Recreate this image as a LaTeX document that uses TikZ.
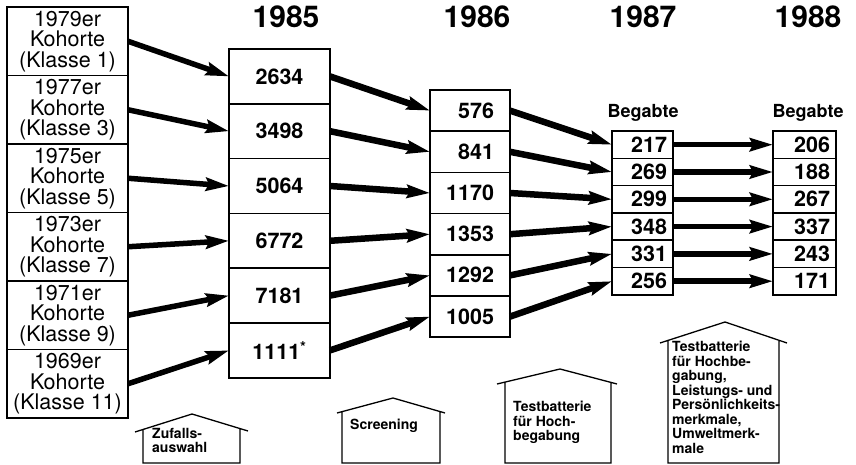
\documentclass[tikz,border=0pt]{standalone}
\usepackage{fontspec}
\setmainfont{TeX Gyre Heros}
\usetikzlibrary{arrows.meta, positioning}

\begin{document}
\begin{tikzpicture}[
  x=1pt, y=-1pt,
  zelle/.style={draw, line width=1.6pt, outer sep=0pt, inner sep=0pt},
  kohorte/.style={zelle, minimum width=121pt, minimum height=68.5pt,
                  align=center, font=\fontsize{21.5}{20.5}\selectfont},
  z85/.style={zelle, minimum width=101pt, minimum height=54.8pt,
              font=\fontsize{21.5}{21}\selectfont\bfseries},
  z86/.style={zelle, minimum width=80pt, minimum height=41.2pt, inner xsep=16pt,
              text width=48pt, align=right, text height=15pt, text depth=0pt,
              font=\fontsize{21.5}{21}\selectfont\bfseries},
  z87/.style={zelle, minimum width=61pt, minimum height=27.3pt, inner xsep=6pt,
              text width=49pt, align=right, text height=15pt, text depth=0pt,
              font=\fontsize{21.5}{21}\selectfont\bfseries},
  z88/.style={z87, minimum width=63pt, text width=51pt},
  jahr/.style={font=\fontsize{30}{30}\selectfont\bfseries},
  begabt/.style={font=\fontsize{18}{18}\selectfont\bfseries},
  haus/.style={line width=1.3pt},
  haustext/.style={anchor=north west, inner sep=0pt, align=left,
                   font=\fontsize{14}{14.5}\selectfont\bfseries},
  pfeil/.style={line width=5.5pt, -{Stealth[length=23pt, width=13pt, inset=3pt]}},
  dick/.style={pfeil, line width=6.5pt},
]
\useasboundingbox (0,0) rectangle (856,465);

% Jahre
\node[jahr] (t85) at (286,17) {1985};
\node[jahr] (t86) at (477,17) {1986};
\node[jahr] (t87) at (643,17) {1987};
\node[jahr] (t88) at (808,17) {1988};
\node[begabt] (b87) at (643,113) {Begabte};
\node[begabt] (b88) at (808,113) {Begabte};

% Kohorten
\node[kohorte] (k79) at (67.5,41.25) {1979er\\Kohorte\\(Klasse 1)};
\node[kohorte, below=0pt of k79] (k77) {1977er\\Kohorte\\(Klasse 3)};
\node[kohorte, below=0pt of k77] (k75) {1975er\\Kohorte\\(Klasse 5)};
\node[kohorte, below=0pt of k75] (k73) {1973er\\Kohorte\\(Klasse 7)};
\node[kohorte, below=0pt of k73] (k71) {1971er\\Kohorte\\(Klasse 9)};
\node[kohorte, below=0pt of k71] (k69) {1969er\\Kohorte\\(Klasse 11)};

% 1985
\node[z85] (a1) at (279.5,76.4) {2634};
\node[z85, below=0pt of a1] (a2) {3498};
\node[z85, below=0pt of a2] (a3) {5064};
\node[z85, below=0pt of a3] (a4) {6772};
\node[z85, below=0pt of a4] (a5) {7181};
\node[z85, below=0pt of a5] (a6) {1111\textsuperscript{*}};

% 1986
\node[z86] (s1) at (470,110.6) {576};
\node[z86, below=0pt of s1] (s2) {841};
\node[z86, below=0pt of s2] (s3) {1170};
\node[z86, below=0pt of s3] (s4) {1353};
\node[z86, below=0pt of s4] (s5) {1292};
\node[z86, below=0pt of s5] (s6) {1005};

% 1987
\node[z87] (p1) at (642.5,144.7) {217};
\node[z87, below=0pt of p1] (p2) {269};
\node[z87, below=0pt of p2] (p3) {299};
\node[z87, below=0pt of p3] (p4) {348};
\node[z87, below=0pt of p4] (p5) {331};
\node[z87, below=0pt of p5] (p6) {256};

% 1988
\node[z88] (q1) at (804.5,144.7) {206};
\node[z88, below=0pt of q1] (q2) {188};
\node[z88, below=0pt of q2] (q3) {267};
\node[z88, below=0pt of q3] (q4) {337};
\node[z88, below=0pt of q4] (q5) {243};
\node[z88, below=0pt of q5] (q6) {171};

\draw[pfeil] (k79.east) -- (a1.west);
\draw[pfeil] (k77.east) -- (a2.west);
\draw[pfeil] (k75.east) -- (a3.west);
\draw[pfeil] (k73.east) -- (a4.west);
\draw[pfeil] (k71.east) -- (a5.west);
\draw[pfeil] (k69.east) -- (a6.west);

\draw[dick] (a1.east) -- (s1.west);
\draw[dick] (a2.east) -- (s2.west);
\draw[dick] (a3.east) -- (s3.west);
\draw[dick] (a4.east) -- (s4.west);
\draw[dick] (a5.east) -- (s5.west);
\draw[dick] (a6.east) -- (s6.west);

\draw[dick] (s1.east) -- (p1.west);
\draw[dick] (s2.east) -- (p2.west);
\draw[dick] (s3.east) -- (p3.west);
\draw[dick] (s4.east) -- (p4.west);
\draw[dick] (s5.east) -- (p5.west);
\draw[dick] (s6.east) -- (p6.west);

\draw[pfeil] (p1.east) -- (q1.west);
\draw[pfeil] (p2.east) -- (q2.west);
\draw[pfeil] (p3.east) -- (q3.west);
\draw[pfeil] (p4.east) -- (q4.west);
\draw[pfeil] (p5.east) -- (q5.west);
\draw[pfeil] (p6.east) -- (q6.west);

% Haeuser
\draw[haus] (135,432) -- (192,414) -- (248,431)
            (143,429.5) -- (143,463) -- (240,463) -- (240,428.6);
\draw[haus] (337,413) -- (393,398) -- (445,413)
            (342,411.7) -- (342,463) -- (440,463) -- (440,411.6);
\draw[haus] (497,384) -- (560,369) -- (617,384)
            (505,382.1) -- (505,463) -- (611,463) -- (611,382.4);
\draw[haus] (660,343) -- (725,322) -- (787,343)
            (668,340.4) -- (668,463) -- (779,463) -- (779,340.3);

\node[haustext] (h1) at (152,428) {Zufalls-\\auswahl};
\node[haustext] (h2) at (350,419) {Screening};
\node[haustext] (h3) at (513,401) {Testbatterie\\für Hoch-\\begabung};
\node[haustext] (h4) at (672,341) {Testbatterie\\für Hochbe-\\gabung,\\Leistungs- und\\Persönlichkeits-\\merkmale,\\Umweltmerk-\\male};
\end{tikzpicture}
\end{document}
